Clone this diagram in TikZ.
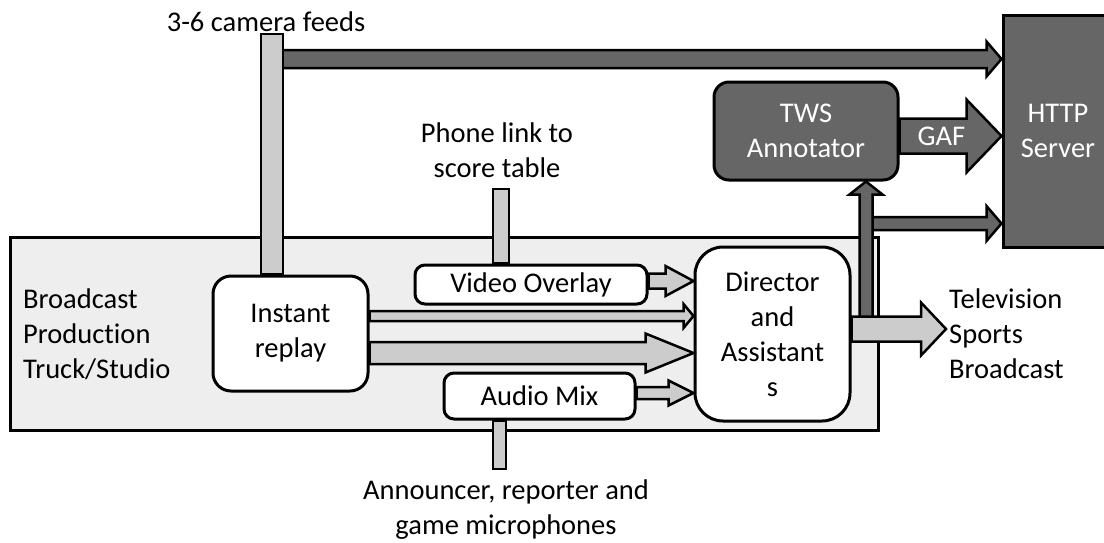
\documentclass[tikz,border=0pt]{standalone}
\usepackage{fontspec}
\setmainfont{Carlito}[Ligatures=NoCommon]
\usetikzlibrary{calc}

\definecolor{studiofill}{HTML}{EEEEEE}
\definecolor{lite}{HTML}{CCCCCC}
\definecolor{dark}{HTML}{666666}

% Block arrow pointing right: style, start, tip, shaft width, head width, head length
\newcommand\blockright[6]{%
  \draw[#1] ($#2+(0,-#4/2)$) -- ($#3+(-#6,-#4/2)$) -- ($#3+(-#6,-#5/2)$) -- #3
    -- ($#3+(-#6,#5/2)$) -- ($#3+(-#6,#4/2)$) -- ($#2+(0,#4/2)$) -- cycle;}
% Block arrow pointing up (y grows downwards in this picture)
\newcommand\blockup[6]{%
  \draw[#1] ($#2+(-#4/2,0)$) -- ($#3+(-#4/2,#6)$) -- ($#3+(-#5/2,#6)$) -- #3
    -- ($#3+(#5/2,#6)$) -- ($#3+(#4/2,#6)$) -- ($#2+(#4/2,0)$) -- cycle;}

\begin{document}
\begin{tikzpicture}[x=1pt, y=-1pt, font=\fontsize{28.5}{35}\selectfont,
  frame/.style={draw=black, line width=3pt},
  rbox/.style={frame, fill=white, rounded corners=#1, align=center, inner sep=0pt},
  litearrow/.style={draw=black, line width=2.5pt, fill=lite},
  darkarrow/.style={draw=black, line width=2.5pt, fill=dark},
  litebar/.style={draw=black, line width=2.5pt, fill=lite}]

\useasboundingbox (0,0) rectangle (1104,542);

% studio area
\node[frame, fill=studiofill, minimum width=868pt, minimum height=193pt, inner sep=0pt] (studio) at (444,333.5) {};
\node[align=left, anchor=west, inner sep=0pt] (bp) at (23,334) {Broadcast\\Production\\Truck/Studio};

% processing blocks
\node[rbox=18pt, minimum width=155pt, minimum height=115pt] (ir) at (290.5,333.5) {Instant\\replay};
\node[rbox=10pt, minimum width=232pt, minimum height=39pt] (vo) at (531,284.5) {Video Overlay};
\node[rbox=10pt, minimum width=191pt, minimum height=46pt] (am) at (539.5,396) {Audio Mix};
\node[rbox=28pt, minimum width=155pt, minimum height=174pt] (dir) at (772.5,334) {Director\\and\\Assistant\\s};
\node[rbox=15pt, fill=dark, text=white, minimum width=184pt, minimum height=98pt] (tws) at (806,131) {TWS\\Annotator};
\node[frame, fill=dark, text=white, align=center, inner sep=0pt, minimum width=110pt, minimum height=232pt] (http) at (1058,131) {HTTP\\Server};

% free labels
\node (cam) at (266,22) {3-6 camera feeds};
\node[align=center] (phone) at (497,150) {Phone link to\\score table};
\node[align=center] (mics) at (506,510) {Announcer, reporter and\\game microphones};
\node[align=left, anchor=west, inner sep=0pt] (tv) at (949,334) {Television\\Sports\\Broadcast};

% camera feeds: dark feed to the server, light bar into the replay block
\coordinate (camtap) at (272,59);
\coordinate (camhit) at (http.west |- camtap);
\blockright{darkarrow}{(camtap)}{(camhit)}{18}{35}{15}
\coordinate (camtop) at (272,34);
\draw[litebar] ($(camtop)+(-11,0)$) rectangle ($(camtop |- ir.north)+(11,0)$);

% phone link and microphones
\coordinate (phtop) at (501,189);
\draw[litebar] ($(phtop)+(-8,0)$) rectangle ($(phtop |- vo.north)+(8,0)$);
\coordinate (micend) at (499.5,469);
\draw[litebar] ($(micend |- am.south)+(-6.5,0)$) rectangle ($(micend)+(6.5,0)$);

% inputs to the director
\coordinate (vos) at ($(vo.east)+(0,-3.5)$);
\coordinate (voe) at (dir.west |- vos);
\blockright{litearrow}{(vos)}{(voe)}{15}{30}{28}
\coordinate (ir1s) at ($(ir.east)+(0,-17.5)$);
\coordinate (ir1e) at (dir.west |- ir1s);
\blockright{litearrow}{(ir1s)}{(ir1e)}{10}{24}{10}
\coordinate (ir2s) at ($(ir.east)+(0,19.5)$);
\coordinate (ir2e) at (dir.west |- ir2s);
\blockright{litearrow}{(ir2s)}{(ir2e)}{22}{39}{48}
\coordinate (ams) at ($(am.east)+(0,-3)$);
\coordinate (ame) at (dir.west |- ams);
\blockright{litearrow}{(ams)}{(ame)}{12}{25}{25}

% broadcast output, tapped for the annotator and the server
\coordinate (tvs) at ($(dir.east)+(0,-5)$);
\coordinate (tve) at ($(tv.west |- tvs)+(-3,0)$);
\coordinate (ups) at ($(tvs)+(14.5,0)$);
\coordinate (upe) at (tws.south -| ups);
\coordinate (brs) at ($(ups)+(0,-105.5)$);
\coordinate (bre) at (http.west |- brs);
\blockright{darkarrow}{(brs)}{(bre)}{13}{35}{15}
\blockup{darkarrow}{(ups)}{(upe)}{13}{33}{13}
\blockright{litearrow}{(tvs)}{(tve)}{25}{53}{25}

% annotations to the server
\coordinate (gafs) at ($(tws.east)+(0,5)$);
\coordinate (gafe) at (http.west |- gafs);
\blockright{darkarrow}{(gafs)}{(gafe)}{35}{73}{35}
\node[text=white] (gaf) at ($(gafs)!0.41!(gafe)$) {GAF};

\end{tikzpicture}
\end{document}
